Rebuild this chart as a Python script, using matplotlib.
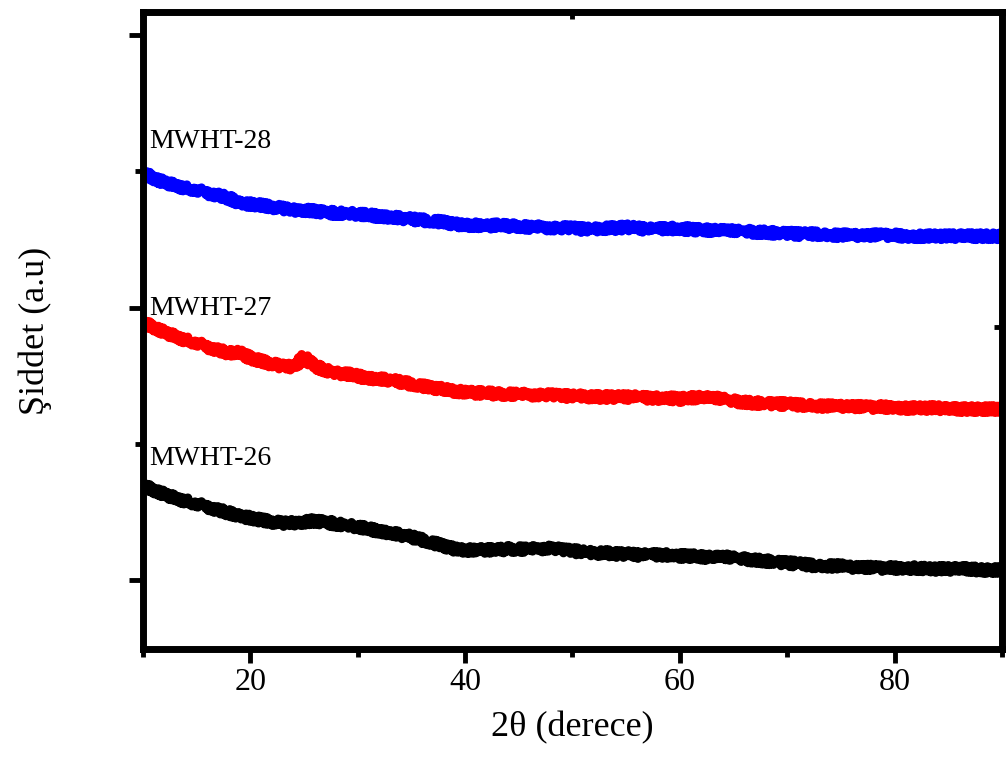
import numpy as np
import matplotlib.pyplot as plt
from matplotlib.ticker import FixedLocator, NullFormatter

plt.rcParams['font.family'] = ['Liberation Serif', 'DejaVu Serif']

# 2-theta grid (degrees)
two_theta = np.arange(10, 91)

# intensities (a.u.), one value per degree
mwht_28 = [477, 471, 467, 464, 461, 459, 456, 454, 451, 446, 445, 444, 442, 441, 439, 439,
           438, 437, 436, 436, 435, 434, 433, 432, 431, 430, 429, 428, 427, 425, 424, 424,
           423, 424, 423, 423, 422, 422, 421, 421, 421, 420, 420, 421, 421, 422, 421, 420,
           420, 421, 420, 420, 419, 419, 419, 418, 418, 417, 417, 416, 416, 415, 415, 415,
           414, 414, 414, 414, 414, 414, 414, 413, 413, 413, 413, 413, 413, 413, 413, 413, 413]
mwht_27 = [327, 322, 317, 313, 309, 306, 302, 299, 296, 297, 291, 288, 285, 283, 282, 292,
           283, 279, 276, 275, 273, 271, 270, 269, 267, 265, 263, 261, 260, 258, 257, 256,
           256, 255, 255, 255, 254, 254, 254, 253, 253, 253, 252, 252, 252, 252, 252, 251,
           251, 251, 250, 251, 252, 251, 250, 248, 247, 246, 246, 245, 245, 244, 244, 243,
           243, 243, 243, 242, 242, 242, 242, 241, 241, 241, 241, 240, 240, 240, 240, 240, 240]
mwht_26 = [164, 159, 155, 151, 148, 145, 142, 139, 136, 133, 131, 129, 127, 126, 126, 127,
           128, 127, 125, 124, 122, 120, 118, 116, 114, 112, 109, 106, 103, 100, 99, 99,
           99, 99, 100, 100, 100, 100, 101, 99, 98, 97, 96, 96, 95, 95, 94, 94,
           94, 94, 93, 93, 92, 92, 92, 91, 90, 89, 88, 87, 86, 85, 84, 83,
           83, 83, 82, 82, 81, 81, 81, 81, 81, 80, 80, 80, 80, 80, 79, 79, 79]

samples = ['MWHT-26', 'MWHT-27', 'MWHT-28']
label_y = [184, 334, 501]
colors = ['black', 'red', 'blue']

fig = plt.figure(figsize=(10.07, 7.67), dpi=100)
ax = fig.add_axes([0.142, 0.154, 0.853, 0.830])

# sketch style gives the traces their grainy, counting-noise look
for ys, c in zip([mwht_26, mwht_27, mwht_28], colors):
    line, = ax.plot(two_theta, ys, color=c, lw=6.5, solid_joinstyle='round',
                    solid_capstyle='round')
    line.set_sketch_params(3.5, 3, 2)

for name, ly in zip(samples, label_y):
    ax.text(10.6, ly, name, fontsize=20, ha='left', va='baseline')

ax.set_xlim(10, 90)
ax.set_ylim(0, 637)

ax.xaxis.set_major_locator(FixedLocator([20, 40, 60, 80]))
ax.xaxis.set_minor_locator(FixedLocator([10, 30, 50, 70, 90]))
ax.yaxis.set_major_locator(FixedLocator([69, 341.5, 614]))
ax.yaxis.set_minor_locator(FixedLocator([205, 478]))
ax.yaxis.set_major_formatter(NullFormatter())

ax.tick_params(which='both', direction='out', width=3.5, labelsize=23, pad=4)
ax.tick_params(which='major', length=10)
ax.tick_params(which='minor', length=6)

for s in ax.spines.values():
    s.set_linewidth(5)

# single inward ticks on the top and right frame
top = ax.secondary_xaxis('top')
top.set_xticks([50])
top.tick_params(direction='in', length=5, width=3.5, labeltop=False)
top.spines['top'].set_visible(False)
right = ax.secondary_yaxis('right')
right.set_yticks([322])
right.tick_params(direction='in', length=6, width=3.5, labelright=False)
right.spines['right'].set_visible(False)

ax.set_xlabel('2θ (derece)', fontsize=26, labelpad=10)
ax.set_ylabel('Şiddet (a.u)', fontsize=26, va='center')
ax.yaxis.set_label_coords(-0.126, 0.5)

fig.savefig('out.png', dpi=100)
